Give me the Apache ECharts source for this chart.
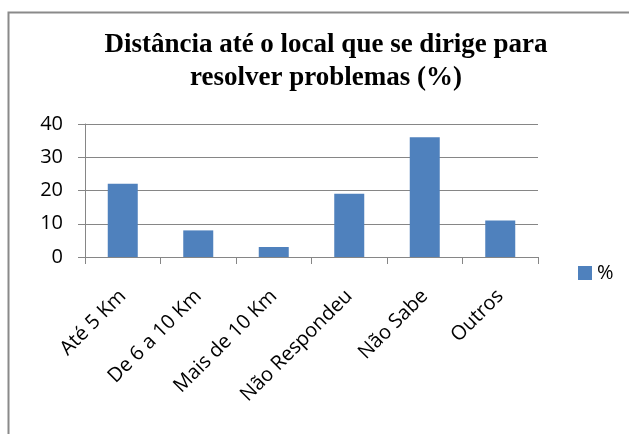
<!DOCTYPE html>
<html>
<head>
<meta charset="utf-8">
<script src="https://cdn.jsdelivr.net/npm/echarts@6/dist/echarts.min.js"></script>
<style>
html,body{margin:0;padding:0;background:#fff;}
#chart{width:629px;height:434px;}
</style>
</head>
<body>
<div id="chart"></div>
<script>
const titleText = 'Distância até o local que se dirige para\nresolver problemas (%)';
const categories = ['Até 5 Km', 'De 6 a 10 Km', 'Mais de 10 Km', 'Não Respondeu', 'Não Sabe', 'Outros'];
const seriesName = '%';
const values = [22, 8, 3, 19, 36, 11];
const yMin = 0, yMax = 40, yInterval = 10;

const chart = echarts.init(document.getElementById('chart'), null, {renderer: 'canvas'});
const gray = '#868686';
chart.setOption({
  animation: false,
  backgroundColor: '#ffffff',
  graphic: [{
    type: 'rect',
    shape: {x: 8.5, y: 12.5, width: 700, height: 500},
    style: {fill: 'none', stroke: '#8a8a8a', lineWidth: 2},
    silent: true
  }],
  title: {
    text: titleText,
    left: 321,
    top: 24,
    textAlign: 'center',
    textStyle: {
      fontFamily: 'Liberation Serif',
      fontWeight: 'bold',
      fontSize: 27,
      lineHeight: 33,
      color: '#000'
    }
  },
  legend: {
    data: [seriesName],
    left: 573,
    top: 258,
    itemWidth: 14,
    itemHeight: 14,
    icon: 'rect',
    itemGap: 6,
    textStyle: {fontFamily: 'Open Sans', fontSize: 20, color: '#000', padding: [0,0,0,0]}
  },
  grid: {left: 85, right: 91, top: 124, bottom: 177, containLabel: false},
  xAxis: {
    type: 'category',
    data: categories,
    boundaryGap: true,
    axisLine: {show: true, lineStyle: {color: gray, width: 1}},
    axisTick: {show: true, alignWithLabel: false, length: 7, lineStyle: {color: gray}},
    axisLabel: {
      rotate: 45,
      margin: 36,
      interval: 0,
      fontFamily: 'Open Sans',
      fontSize: 20,
      color: '#000'
    },
    splitLine: {show: false}
  },
  yAxis: {
    type: 'value',
    min: yMin,
    max: yMax,
    interval: yInterval,
    axisLine: {show: true, lineStyle: {color: gray, width: 1}},
    axisTick: {show: true, length: 7, lineStyle: {color: gray}},
    axisLabel: {margin: 22, fontFamily: 'Open Sans', fontSize: 20, color: '#000'},
    splitLine: {show: true, lineStyle: {color: gray, width: 1}}
  },
  series: [{
    name: seriesName,
    type: 'bar',
    data: values,
    barWidth: 30,
    itemStyle: {color: '#4f81bd'}
  }]
});
</script>
</body>
</html>
